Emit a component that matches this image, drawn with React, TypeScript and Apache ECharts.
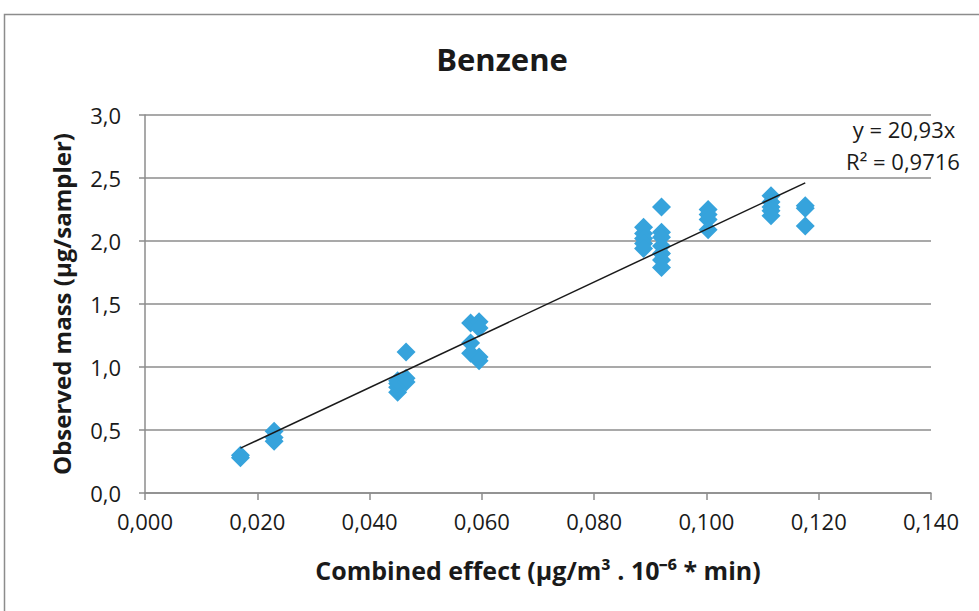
import React, { useEffect, useRef } from "react";
import * as echarts from "echarts";

const xValues: number[] = [
  0.017, 0.017,
  0.023, 0.023, 0.023,
  0.045, 0.045, 0.045, 0.045, 0.0465, 0.0465, 0.0465,
  0.058, 0.058, 0.058, 0.0595, 0.0595, 0.0595, 0.0595,
  0.0888, 0.0888, 0.0888, 0.0888, 0.0888,
  0.092, 0.092, 0.092, 0.092, 0.092, 0.092, 0.092,
  0.1003, 0.1003, 0.1003, 0.1003,
  0.1115, 0.1115, 0.1115, 0.1115, 0.1115,
  0.1176, 0.1176, 0.1176,
];
const yValues: number[] = [
  0.28, 0.3,
  0.49, 0.44, 0.41,
  0.8, 0.84, 0.87, 0.89, 0.88, 0.91, 1.12,
  1.35, 1.19, 1.11, 1.36, 1.31, 1.08, 1.05,
  2.11, 2.06, 2.02, 1.98, 1.94,
  2.27, 2.07, 2.03, 1.96, 1.9, 1.85, 1.79,
  2.25, 2.21, 2.17, 2.09,
  2.36, 2.31, 2.27, 2.24, 2.2,
  2.28, 2.26, 2.12,
];
const slope = 20.93;
const equationLabels: string[] = ["y = 20,93x", "R² = 0,9716"];
const titleText = "Benzene";
const xAxisTitle = "Combined effect (µg/m³ . 10⁻⁶ * min)";
const yAxisTitle = "Observed mass (µg/sampler)";

const FONT = "'Open Sans', sans-serif";

export default function App() {
  const ref = useRef<HTMLDivElement>(null);
  useEffect(() => {
    document.body.style.margin = "0";
    if (!ref.current) return;
    const chart = echarts.init(ref.current, undefined, { renderer: "svg" });
    const points = xValues.map((x, i) => [x, yValues[i]]);
    const xMin = Math.min(...xValues);
    const xMax = Math.max(...xValues);
    const trend = [
      [xMin, slope * xMin],
      [xMax, slope * xMax],
    ];
    chart.setOption({
      animation: false,
      backgroundColor: "#ffffff",
      title: {
        text: titleText,
        left: 497,
        top: 38,
        textAlign: "center",
        textStyle: { fontFamily: FONT, fontSize: 31, fontWeight: "bold", color: "#1a1a1a" },
      },
      grid: { left: 145, right: 48, top: 115, bottom: 118 },
      xAxis: {
        type: "value",
        min: 0,
        max: 0.14,
        interval: 0.02,
        name: xAxisTitle,
        nameLocation: "middle",
        nameGap: 64,
        nameTextStyle: { fontFamily: FONT, fontSize: 25, fontWeight: "bold", color: "#1a1a1a" },
        axisLine: { show: true, lineStyle: { color: "#8c8c8c", width: 1.5 } },
        axisTick: { show: true, inside: false, length: 7, lineStyle: { color: "#8c8c8c", width: 1.5 } },
        splitLine: { show: false },
        axisLabel: {
          fontFamily: FONT,
          fontSize: 22,
          color: "#1a1a1a",
          margin: 17,
          formatter: (v: number) => v.toFixed(3).replace(".", ","),
        },
      },
      yAxis: {
        type: "value",
        min: 0,
        max: 3,
        interval: 0.5,
        name: yAxisTitle,
        nameLocation: "middle",
        nameRotate: 90,
        nameGap: 72,
        nameTextStyle: { fontFamily: FONT, fontSize: 24, fontWeight: "bold", color: "#1a1a1a" },
        axisLine: { show: true, lineStyle: { color: "#8c8c8c", width: 1.5 } },
        axisTick: { show: true, length: 6, lineStyle: { color: "#8c8c8c", width: 1.5 } },
        splitLine: { show: true, lineStyle: { color: "#8c8c8c", width: 1.5 } },
        axisLabel: {
          fontFamily: FONT,
          fontSize: 22,
          color: "#1a1a1a",
          margin: 24,
          formatter: (v: number) => v.toFixed(1).replace(".", ","),
        },
      },
      series: [
        {
          type: "scatter",
          data: points,
          symbol: "diamond",
          symbolSize: [19, 19],
          itemStyle: { color: "#36a3dc", opacity: 1 },
          z: 2,
        },
        {
          type: "line",
          data: trend,
          symbol: "none",
          lineStyle: { color: "#1a1a1a", width: 1.5 },
          z: 3,
        },
      ],
      graphic: [
        {
          type: "rect",
          shape: { x: 4.5, y: 14.5, width: 1200, height: 900 },
          style: { fill: "none", stroke: "#8c8c8c", lineWidth: 1.5 },
          silent: true,
          z: -1,
        },
        {
          type: "text",
          x: 904,
          y: 129,
          style: {
            text: equationLabels[0],
            fontFamily: FONT,
            fontSize: 22,
            fill: "#1a1a1a",
            align: "center",
            verticalAlign: "middle",
          },
        },
        {
          type: "text",
          x: 903,
          y: 161,
          style: {
            text: equationLabels[1],
            fontFamily: FONT,
            fontSize: 22,
            fill: "#1a1a1a",
            align: "center",
            verticalAlign: "middle",
          },
        },
      ],
    });
    return () => chart.dispose();
  }, []);
  return (
    <div
      ref={ref}
      style={{ position: "absolute", left: 0, top: 0, width: 979, height: 611 }}
    />
  );
}
